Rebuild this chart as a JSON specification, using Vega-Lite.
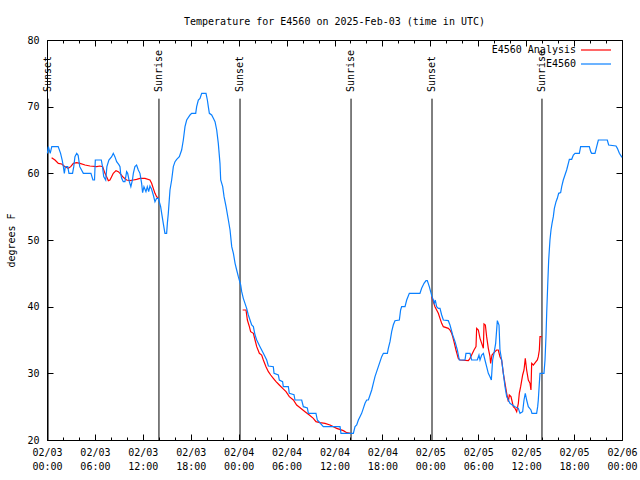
{
  "$schema": "https://vega.github.io/schema/vega-lite/v6.json",
  "width": 575,
  "height": 400,
  "autosize": "none",
  "padding": {"left": 47, "top": 40, "right": 18, "bottom": 40},
  "background": "white",
  "title": {"text": "Temperature for E4560 on 2025-Feb-03 (time in UTC)", "frame": "group", "anchor": "middle", "offset": 0, "baseline": "alphabetic", "font": "DejaVu Sans Mono", "fontSize": 10, "fontWeight": "normal", "color": "black"},
  "config": {
    "view": {"stroke": "black", "strokeWidth": 1},
    "axis": {"domain": false, "grid": false, "labelFont": "DejaVu Sans Mono", "labelFontSize": 10, "labelColor": "black", "tickColor": "black", "tickWidth": 1, "titleFont": "DejaVu Sans Mono", "titleFontSize": 10, "titleFontWeight": "normal", "titleColor": "black"}
  },
  "datasets": {
    "sun": [
      {"h": 0.13, "event": "Sunset"},
      {"h": 14.02, "event": "Sunrise"},
      {"h": 24.17, "event": "Sunset"},
      {"h": 38.07, "event": "Sunrise"},
      {"h": 48.21, "event": "Sunset"},
      {"h": 61.98, "event": "Sunrise"}
    ],
    "analysis": [
      {"h": 0.58, "temp": 62.35, "seg": "a"}, {"h": 1.0, "temp": 62, "seg": "a"}, {"h": 1.42, "temp": 61.5, "seg": "a"}, {"h": 1.84, "temp": 61.4, "seg": "a"}, {"h": 2.25, "temp": 61, "seg": "a"}, {"h": 2.67, "temp": 60.75, "seg": "a"}, {"h": 2.97, "temp": 61, "seg": "a"}, {"h": 3.3, "temp": 61.5, "seg": "a"}, {"h": 3.72, "temp": 61.6, "seg": "a"}, {"h": 4.13, "temp": 61.5, "seg": "a"}, {"h": 4.76, "temp": 61.25, "seg": "a"}, {"h": 5.38, "temp": 61.1, "seg": "a"}, {"h": 6.22, "temp": 61, "seg": "a"}, {"h": 6.63, "temp": 61.1, "seg": "a"}, {"h": 6.97, "temp": 61, "seg": "a"}, {"h": 7.26, "temp": 60, "seg": "a"}, {"h": 7.55, "temp": 59.25, "seg": "a"}, {"h": 7.68, "temp": 58.9, "seg": "a"}, {"h": 7.88, "temp": 59, "seg": "a"}, {"h": 8.09, "temp": 59.5, "seg": "a"}, {"h": 8.3, "temp": 60, "seg": "a"}, {"h": 8.64, "temp": 60.4, "seg": "a"}, {"h": 8.93, "temp": 60.25, "seg": "a"}, {"h": 9.14, "temp": 60, "seg": "a"}, {"h": 9.55, "temp": 59.4, "seg": "a"}, {"h": 9.97, "temp": 59, "seg": "a"}, {"h": 10.39, "temp": 58.9, "seg": "a"}, {"h": 10.81, "temp": 59, "seg": "a"}, {"h": 11.22, "temp": 59.1, "seg": "a"}, {"h": 11.64, "temp": 59.25, "seg": "a"}, {"h": 12.27, "temp": 59.25, "seg": "a"}, {"h": 12.89, "temp": 59, "seg": "a"}, {"h": 13.1, "temp": 58.5, "seg": "a"}, {"h": 13.31, "temp": 57.75, "seg": "a"}, {"h": 13.52, "temp": 57, "seg": "a"}, {"h": 13.73, "temp": 56.5, "seg": "a"}, {"h": 13.94, "temp": 56.25, "seg": "a"},
      {"h": 24.5, "temp": 39.5, "seg": "b"}, {"h": 24.92, "temp": 39.5, "seg": "b"}, {"h": 25.09, "temp": 38, "seg": "b"}, {"h": 25.34, "temp": 37, "seg": "b"}, {"h": 25.5, "temp": 36.25, "seg": "b"}, {"h": 25.84, "temp": 36, "seg": "b"}, {"h": 26.05, "temp": 35, "seg": "b"}, {"h": 26.26, "temp": 34, "seg": "b"}, {"h": 26.59, "temp": 33, "seg": "b"}, {"h": 26.88, "temp": 32.75, "seg": "b"}, {"h": 27.09, "temp": 32, "seg": "b"}, {"h": 27.42, "temp": 31, "seg": "b"}, {"h": 27.72, "temp": 30.25, "seg": "b"}, {"h": 28.01, "temp": 29.75, "seg": "b"}, {"h": 28.34, "temp": 29.25, "seg": "b"}, {"h": 28.68, "temp": 28.75, "seg": "b"}, {"h": 29.09, "temp": 28.25, "seg": "b"}, {"h": 29.51, "temp": 27.75, "seg": "b"}, {"h": 29.93, "temp": 27.25, "seg": "b"}, {"h": 30.34, "temp": 26.5, "seg": "b"}, {"h": 30.85, "temp": 26, "seg": "b"}, {"h": 31.26, "temp": 25.25, "seg": "b"}, {"h": 31.77, "temp": 24.75, "seg": "b"}, {"h": 32.31, "temp": 24.25, "seg": "b"}, {"h": 32.85, "temp": 23.75, "seg": "b"}, {"h": 33.35, "temp": 23.25, "seg": "b"}, {"h": 33.68, "temp": 22.75, "seg": "b"}, {"h": 34.19, "temp": 22.6, "seg": "b"}, {"h": 34.81, "temp": 22.5, "seg": "b"}, {"h": 35.44, "temp": 22.25, "seg": "b"}, {"h": 36.27, "temp": 21.75, "seg": "b"}, {"h": 37.11, "temp": 21.4, "seg": "b"}, {"h": 37.53, "temp": 21.1, "seg": "b"}, {"h": 38.03, "temp": 21, "seg": "b"},
      {"h": 48.17, "temp": 41.5, "seg": "c"}, {"h": 48.37, "temp": 40.75, "seg": "c"}, {"h": 48.58, "temp": 40, "seg": "c"}, {"h": 48.79, "temp": 39.5, "seg": "c"}, {"h": 49.0, "temp": 39, "seg": "c"}, {"h": 49.21, "temp": 38.25, "seg": "c"}, {"h": 49.42, "temp": 37.5, "seg": "c"}, {"h": 49.63, "temp": 37, "seg": "c"}, {"h": 50.25, "temp": 36.75, "seg": "c"}, {"h": 50.46, "temp": 36.5, "seg": "c"}, {"h": 50.67, "temp": 36, "seg": "c"}, {"h": 50.8, "temp": 35.5, "seg": "c"}, {"h": 50.96, "temp": 34.75, "seg": "c"}, {"h": 51.21, "temp": 33.5, "seg": "c"}, {"h": 51.5, "temp": 32.25, "seg": "c"}, {"h": 51.71, "temp": 32, "seg": "c"}, {"h": 52.76, "temp": 31.9, "seg": "c"}, {"h": 52.97, "temp": 32.25, "seg": "c"}, {"h": 53.17, "temp": 32.75, "seg": "c"}, {"h": 53.47, "temp": 33.5, "seg": "c"}, {"h": 53.72, "temp": 34, "seg": "c"}, {"h": 53.8, "temp": 36.75, "seg": "c"}, {"h": 54.01, "temp": 36.5, "seg": "c"}, {"h": 54.22, "temp": 35.25, "seg": "c"}, {"h": 54.43, "temp": 34.5, "seg": "c"}, {"h": 54.64, "temp": 33.75, "seg": "c"}, {"h": 54.72, "temp": 37.4, "seg": "c"}, {"h": 54.89, "temp": 37.25, "seg": "c"}, {"h": 55.05, "temp": 35.5, "seg": "c"}, {"h": 55.26, "temp": 33.75, "seg": "c"}, {"h": 55.47, "temp": 32.5, "seg": "c"}, {"h": 55.55, "temp": 31.5, "seg": "c"}, {"h": 55.72, "temp": 32.75, "seg": "c"}, {"h": 55.89, "temp": 33, "seg": "c"}, {"h": 56.1, "temp": 33.25, "seg": "c"}, {"h": 56.3, "temp": 33.5, "seg": "c"}, {"h": 56.51, "temp": 33.5, "seg": "c"}, {"h": 56.72, "temp": 32.5, "seg": "c"}, {"h": 56.93, "temp": 32, "seg": "c"}, {"h": 57.14, "temp": 30, "seg": "c"}, {"h": 57.35, "temp": 28.5, "seg": "c"}, {"h": 57.56, "temp": 27, "seg": "c"}, {"h": 57.77, "temp": 25.75, "seg": "c"}, {"h": 57.89, "temp": 26.75, "seg": "c"}, {"h": 58.1, "temp": 26.5, "seg": "c"}, {"h": 58.39, "temp": 25, "seg": "c"}, {"h": 58.6, "temp": 24.75, "seg": "c"}, {"h": 58.81, "temp": 24.25, "seg": "c"}, {"h": 59.02, "temp": 25.5, "seg": "c"}, {"h": 59.14, "temp": 27, "seg": "c"}, {"h": 59.31, "temp": 28, "seg": "c"}, {"h": 59.56, "temp": 29.75, "seg": "c"}, {"h": 59.73, "temp": 30.5, "seg": "c"}, {"h": 59.89, "temp": 32.25, "seg": "c"}, {"h": 60.06, "temp": 30.5, "seg": "c"}, {"h": 60.27, "temp": 29, "seg": "c"}, {"h": 60.48, "temp": 28.5, "seg": "c"}, {"h": 60.6, "temp": 27.5, "seg": "c"}, {"h": 60.69, "temp": 31.5, "seg": "c"}, {"h": 60.9, "temp": 31.25, "seg": "c"}, {"h": 61.23, "temp": 31.75, "seg": "c"}, {"h": 61.4, "temp": 32, "seg": "c"}, {"h": 61.52, "temp": 32.5, "seg": "c"}, {"h": 61.65, "temp": 33.5, "seg": "c"}, {"h": 61.73, "temp": 35.5, "seg": "c"}, {"h": 61.94, "temp": 35.5, "seg": "c"}
    ],
    "obs": [
      {"h": 0.05, "temp": 63}, {"h": 0.17, "temp": 64}, {"h": 0.4, "temp": 63}, {"h": 0.6, "temp": 64}, {"h": 1.4, "temp": 64}, {"h": 1.7, "temp": 63}, {"h": 1.9, "temp": 62}, {"h": 2.05, "temp": 61}, {"h": 2.17, "temp": 60}, {"h": 2.3, "temp": 61}, {"h": 2.6, "temp": 61}, {"h": 2.75, "temp": 60}, {"h": 3.2, "temp": 60}, {"h": 3.35, "temp": 61}, {"h": 3.5, "temp": 62.5}, {"h": 3.72, "temp": 63}, {"h": 3.9, "temp": 62.7}, {"h": 4.1, "temp": 61}, {"h": 4.55, "temp": 60}, {"h": 5.5, "temp": 60}, {"h": 5.75, "temp": 59}, {"h": 5.95, "temp": 59}, {"h": 6.05, "temp": 62}, {"h": 6.8, "temp": 62}, {"h": 6.95, "temp": 61}, {"h": 7.1, "temp": 59.5}, {"h": 7.35, "temp": 59}, {"h": 7.5, "temp": 61}, {"h": 7.75, "temp": 62}, {"h": 8.1, "temp": 62.5}, {"h": 8.3, "temp": 63}, {"h": 8.5, "temp": 62.5}, {"h": 8.72, "temp": 61.75}, {"h": 9.0, "temp": 61.3}, {"h": 9.14, "temp": 61}, {"h": 9.22, "temp": 60}, {"h": 9.35, "temp": 59.25}, {"h": 9.55, "temp": 58.75}, {"h": 9.76, "temp": 58.75}, {"h": 9.97, "temp": 60.25}, {"h": 10.1, "temp": 60}, {"h": 10.31, "temp": 58.75}, {"h": 10.5, "temp": 58}, {"h": 10.7, "temp": 59}, {"h": 10.81, "temp": 60}, {"h": 11.01, "temp": 61}, {"h": 11.22, "temp": 61.25}, {"h": 11.43, "temp": 60.5}, {"h": 11.64, "temp": 60}, {"h": 11.85, "temp": 58.5}, {"h": 11.97, "temp": 57.1}, {"h": 12.14, "temp": 58}, {"h": 12.39, "temp": 57.25}, {"h": 12.56, "temp": 58}, {"h": 12.73, "temp": 57.25}, {"h": 12.89, "temp": 58.1}, {"h": 13.1, "temp": 57.6}, {"h": 13.31, "temp": 56.75}, {"h": 13.52, "temp": 55.75}, {"h": 13.73, "temp": 56.25}, {"h": 13.94, "temp": 56.25}, {"h": 14.06, "temp": 55.75}, {"h": 14.23, "temp": 55}, {"h": 14.36, "temp": 54}, {"h": 14.56, "temp": 52.5}, {"h": 14.77, "temp": 51}, {"h": 14.98, "temp": 51}, {"h": 15.07, "temp": 52.5}, {"h": 15.19, "temp": 54}, {"h": 15.4, "temp": 57.5}, {"h": 15.61, "temp": 59}, {"h": 15.82, "temp": 61}, {"h": 16.03, "temp": 61.75}, {"h": 16.24, "temp": 62.1}, {"h": 16.57, "temp": 62.5}, {"h": 16.86, "temp": 63.5}, {"h": 17.07, "temp": 65}, {"h": 17.28, "temp": 67}, {"h": 17.49, "temp": 68}, {"h": 17.91, "temp": 68.75}, {"h": 18.11, "temp": 69}, {"h": 18.62, "temp": 69}, {"h": 18.74, "temp": 70}, {"h": 18.95, "temp": 71}, {"h": 19.16, "temp": 71.25}, {"h": 19.37, "temp": 72}, {"h": 19.91, "temp": 72}, {"h": 20.08, "temp": 71}, {"h": 20.2, "temp": 70}, {"h": 20.33, "temp": 69}, {"h": 20.62, "temp": 68.75}, {"h": 20.83, "temp": 68.25}, {"h": 21.04, "temp": 67.75}, {"h": 21.25, "temp": 66.5}, {"h": 21.45, "temp": 64.5}, {"h": 21.66, "temp": 61.5}, {"h": 21.75, "temp": 59}, {"h": 22.0, "temp": 58}, {"h": 22.17, "temp": 56.5}, {"h": 22.42, "temp": 55}, {"h": 22.71, "temp": 53}, {"h": 22.92, "temp": 51.5}, {"h": 23.13, "temp": 49}, {"h": 23.34, "temp": 48}, {"h": 23.55, "temp": 46.5}, {"h": 23.75, "temp": 45.5}, {"h": 23.96, "temp": 44.5}, {"h": 24.08, "temp": 44}, {"h": 24.25, "temp": 43.25}, {"h": 24.38, "temp": 42.25}, {"h": 24.58, "temp": 41.25}, {"h": 24.79, "temp": 40.5}, {"h": 25.0, "temp": 39.75}, {"h": 25.21, "temp": 38.75}, {"h": 25.42, "temp": 38}, {"h": 25.63, "temp": 37.25}, {"h": 25.84, "temp": 37}, {"h": 26.05, "temp": 35.75}, {"h": 26.26, "temp": 35}, {"h": 26.67, "temp": 34}, {"h": 27.09, "temp": 33}, {"h": 27.51, "temp": 32}, {"h": 27.72, "temp": 31.1}, {"h": 28.34, "temp": 31}, {"h": 28.43, "temp": 30}, {"h": 28.97, "temp": 29.75}, {"h": 29.09, "temp": 29}, {"h": 29.5, "temp": 28.75}, {"h": 29.59, "temp": 28}, {"h": 30.22, "temp": 28}, {"h": 30.34, "temp": 27}, {"h": 30.93, "temp": 26.8}, {"h": 31.05, "temp": 26}, {"h": 31.89, "temp": 26}, {"h": 32.1, "temp": 25}, {"h": 32.6, "temp": 24.8}, {"h": 32.73, "temp": 24}, {"h": 33.68, "temp": 24}, {"h": 33.85, "temp": 23}, {"h": 34.6, "temp": 22}, {"h": 36.69, "temp": 22}, {"h": 36.81, "temp": 21}, {"h": 38.36, "temp": 21}, {"h": 38.57, "temp": 22}, {"h": 38.78, "temp": 22.25}, {"h": 38.99, "temp": 23}, {"h": 39.19, "temp": 23.5}, {"h": 39.4, "temp": 24}, {"h": 39.61, "temp": 24.75}, {"h": 39.82, "temp": 25.5}, {"h": 40.03, "temp": 26}, {"h": 40.24, "temp": 26}, {"h": 40.45, "temp": 26.75}, {"h": 40.66, "temp": 27.5}, {"h": 40.86, "temp": 28.5}, {"h": 41.07, "temp": 29.5}, {"h": 41.28, "temp": 30.25}, {"h": 41.49, "temp": 31}, {"h": 41.7, "temp": 31.75}, {"h": 41.91, "temp": 32.5}, {"h": 42.12, "temp": 33}, {"h": 42.62, "temp": 33}, {"h": 42.74, "temp": 33.75}, {"h": 42.95, "temp": 34.75}, {"h": 43.16, "temp": 36.25}, {"h": 43.36, "temp": 37.25}, {"h": 43.57, "temp": 37.9}, {"h": 44.12, "temp": 38}, {"h": 44.28, "temp": 39.5}, {"h": 44.41, "temp": 40}, {"h": 44.83, "temp": 40}, {"h": 45.04, "temp": 41}, {"h": 45.37, "temp": 42}, {"h": 46.7, "temp": 42}, {"h": 46.91, "temp": 42.75}, {"h": 47.21, "temp": 43.5}, {"h": 47.46, "temp": 43.9}, {"h": 47.62, "temp": 43.9}, {"h": 47.87, "temp": 43}, {"h": 48.04, "temp": 42.25}, {"h": 48.21, "temp": 41.5}, {"h": 48.37, "temp": 41}, {"h": 48.5, "temp": 40.5}, {"h": 48.62, "temp": 41}, {"h": 48.79, "temp": 40}, {"h": 49.0, "temp": 39.75}, {"h": 49.21, "temp": 39.75}, {"h": 49.42, "temp": 38.75}, {"h": 49.63, "temp": 38}, {"h": 50.25, "temp": 37.9}, {"h": 50.46, "temp": 37.25}, {"h": 50.8, "temp": 35.75}, {"h": 51.09, "temp": 34.75}, {"h": 51.38, "temp": 33.5}, {"h": 51.63, "temp": 32}, {"h": 52.34, "temp": 32}, {"h": 52.46, "temp": 33}, {"h": 52.97, "temp": 33}, {"h": 53.17, "temp": 32}, {"h": 53.88, "temp": 32}, {"h": 54.09, "temp": 32.75}, {"h": 54.22, "temp": 32}, {"h": 54.43, "temp": 32.75}, {"h": 54.64, "temp": 33}, {"h": 54.84, "temp": 32}, {"h": 55.05, "temp": 31}, {"h": 55.26, "temp": 30}, {"h": 55.47, "temp": 29.5}, {"h": 55.64, "temp": 29}, {"h": 55.8, "temp": 32}, {"h": 55.97, "temp": 33}, {"h": 56.18, "temp": 34.5}, {"h": 56.39, "temp": 37.9}, {"h": 56.6, "temp": 37.25}, {"h": 56.72, "temp": 33.5}, {"h": 56.93, "temp": 32}, {"h": 57.14, "temp": 30}, {"h": 57.35, "temp": 28}, {"h": 57.56, "temp": 26.5}, {"h": 57.97, "temp": 25.5}, {"h": 58.6, "temp": 25}, {"h": 59.02, "temp": 24.75}, {"h": 59.23, "temp": 24}, {"h": 59.56, "temp": 24.25}, {"h": 59.73, "temp": 26}, {"h": 59.89, "temp": 27}, {"h": 60.06, "temp": 26}, {"h": 60.27, "temp": 25}, {"h": 60.6, "temp": 24.5}, {"h": 60.73, "temp": 24}, {"h": 61.31, "temp": 24}, {"h": 61.44, "temp": 25}, {"h": 61.52, "temp": 26}, {"h": 61.65, "temp": 28.5}, {"h": 61.73, "temp": 30}, {"h": 62.23, "temp": 30}, {"h": 62.36, "temp": 32}, {"h": 62.48, "temp": 35.5}, {"h": 62.57, "temp": 39}, {"h": 62.69, "temp": 43}, {"h": 62.82, "temp": 47}, {"h": 62.98, "temp": 50}, {"h": 63.11, "temp": 51.5}, {"h": 63.24, "temp": 52.5}, {"h": 63.4, "temp": 53.5}, {"h": 63.53, "temp": 54.75}, {"h": 63.74, "temp": 55.75}, {"h": 63.9, "temp": 56.25}, {"h": 64.07, "temp": 57}, {"h": 64.32, "temp": 57.1}, {"h": 64.45, "temp": 58}, {"h": 64.65, "temp": 59}, {"h": 64.86, "temp": 59.75}, {"h": 65.07, "temp": 60.5}, {"h": 65.28, "temp": 61.5}, {"h": 65.41, "temp": 62.1}, {"h": 65.7, "temp": 62.1}, {"h": 65.91, "temp": 62.75}, {"h": 66.12, "temp": 63}, {"h": 66.66, "temp": 63}, {"h": 66.82, "temp": 64}, {"h": 67.91, "temp": 64}, {"h": 68.08, "temp": 63.25}, {"h": 68.2, "temp": 63}, {"h": 68.62, "temp": 63}, {"h": 68.83, "temp": 64}, {"h": 69.04, "temp": 65}, {"h": 70.16, "temp": 65}, {"h": 70.33, "temp": 64.25}, {"h": 71.25, "temp": 64.1}, {"h": 71.42, "temp": 63.75}, {"h": 71.67, "temp": 63}, {"h": 72.0, "temp": 62.4}
    ]
  },
  "layer": [
    {
      "data": {"name": "sun"},
      "mark": {"type": "rule", "color": "black", "strokeWidth": 1},
      "encoding": {
        "x": {"field": "h", "type": "quantitative", "scale": {"domain": [0, 72], "nice": false, "zero": false},
          "axis": {"orient": "top", "values": [0, 6, 12, 18, 24, 30, 36, 42, 48, 54, 60, 66, 72], "tickSize": -6, "labels": false, "title": null}},
        "y": {"datum": 20, "type": "quantitative", "scale": {"domain": [20, 80], "nice": false, "zero": false},
          "axis": {"orient": "right", "values": [20, 30, 40, 50, 60, 70, 80], "tickSize": -6, "labels": false, "title": null}},
        "y2": {"datum": 71.2}
      }
    },
    {
      "data": {"name": "sun"},
      "mark": {"type": "text", "angle": 270, "align": "left", "baseline": "middle", "font": "DejaVu Sans Mono", "fontSize": 10, "color": "black"},
      "encoding": {
        "x": {"field": "h", "type": "quantitative",
          "axis": {"orient": "top", "values": [0, 2, 4, 6, 8, 10, 12, 14, 16, 18, 20, 22, 24, 26, 28, 30, 32, 34, 36, 38, 40, 42, 44, 46, 48, 50, 52, 54, 56, 58, 60, 62, 64, 66, 68, 70, 72], "tickSize": -3, "labels": false, "title": null}},
        "y": {"datum": 72.2, "type": "quantitative", "axis": null},
        "text": {"field": "event"}
      }
    },
    {
      "data": {"name": "analysis"},
      "mark": {"type": "line", "strokeWidth": 1.2, "interpolate": "linear"},
      "encoding": {
        "x": {"field": "h", "type": "quantitative",
          "axis": {"orient": "bottom", "values": [0, 6, 12, 18, 24, 30, 36, 42, 48, 54, 60, 66, 72], "tickSize": -6, "labelPadding": 13, "labelBaseline": "top", "labelLineHeight": 14, "labelFlush": false, "labelOverlap": false, "title": null,
            "labelExpr": "['02/0' + (floor(datum.value / 24) + 3), (datum.value % 24 < 10 ? '0' : '') + (datum.value % 24) + ':00']"}},
        "y": {"field": "temp", "type": "quantitative",
          "axis": {"orient": "left", "values": [20, 30, 40, 50, 60, 70, 80], "tickSize": -6, "labelPadding": 14, "title": "degrees F", "titleX": -36, "titleAngle": 270, "titleBaseline": "middle", "titleAlign": "center"}},
        "color": {"datum": "E4560 Analysis", "type": "nominal",
          "scale": {"domain": ["E4560 Analysis", "E4560"], "range": ["#ff0000", "#0a80ff"]},
          "legend": {"orient": "none", "legendX": 543, "legendY": 4, "title": null, "symbolType": "M-3,0H3", "symbolSize": 100, "symbolStrokeWidth": 1.2, "labelAlign": "right", "labelOffset": -26, "labelFont": "DejaVu Sans Mono", "labelFontSize": 10, "labelColor": "black", "rowPadding": 3, "padding": 0, "labelLimit": 0}},
        "detail": {"field": "seg", "type": "nominal"}
      }
    },
    {
      "data": {"name": "obs"},
      "mark": {"type": "line", "strokeWidth": 1.2, "interpolate": "linear"},
      "encoding": {
        "x": {"field": "h", "type": "quantitative",
          "axis": {"orient": "bottom", "values": [0, 2, 4, 6, 8, 10, 12, 14, 16, 18, 20, 22, 24, 26, 28, 30, 32, 34, 36, 38, 40, 42, 44, 46, 48, 50, 52, 54, 56, 58, 60, 62, 64, 66, 68, 70, 72], "tickSize": -3, "labels": false, "title": null}},
        "y": {"field": "temp", "type": "quantitative", "axis": null},
        "color": {"datum": "E4560", "type": "nominal"}
      }
    }
  ],
  "resolve": {"axis": {"x": "independent", "y": "independent"}}
}
